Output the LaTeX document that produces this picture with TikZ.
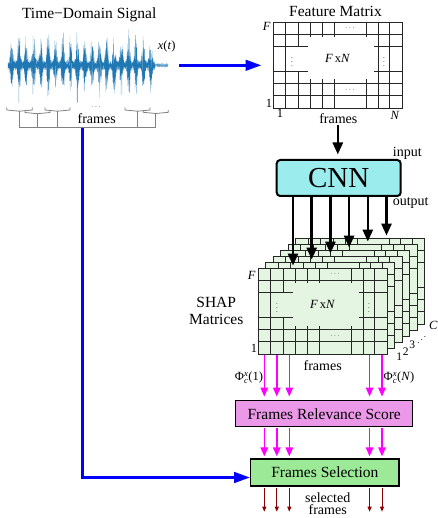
\documentclass[tikz,border=0pt]{standalone}
\usepackage{fontspec}
\usepackage{amsmath}
\usepackage{graphicx}
\setmainfont{Liberation Serif}
\usetikzlibrary{arrows.meta,calc}

\definecolor{sigblue}{RGB}{31,119,180}
\definecolor{pureblue}{RGB}{0,0,255}
\definecolor{puremag}{RGB}{255,0,255}
\definecolor{cnncol}{RGB}{155,236,236}
\definecolor{relcol}{RGB}{236,152,232}
\definecolor{selcol}{RGB}{156,234,152}
\definecolor{layfill}{RGB}{228,246,226}
\definecolor{darkred}{RGB}{140,0,0}
\definecolor{brgray}{RGB}{130,130,130}

% grid of an F x N matrix; #1 = top-left corner, #2 = fill colour
\newcommand\matgrid[2]{%
  \begin{scope}[shift={#1}]
    \fill[#2] (0,0) rectangle (129,86);
    \draw[gridline] (0,12) -- (129,12) (0,61.4) -- (129,61.4) (0,73.8) -- (129,73.8);
    \draw[gridline] (0,24) -- (35,24) (101,24) -- (129,24)
                    (0,49.2) -- (35,49.2) (101,49.2) -- (129,49.2);
    \draw[gridline] (12.4,0) -- (12.4,86) (105,0) -- (105,86) (116.7,0) -- (116.7,86);
    \draw[gridline] (25.2,0) -- (25.2,24) (25.2,49.2) -- (25.2,86);
    \foreach \c in {37.4,49.7,61.7,93.4}
      \draw[gridline] (\c,0) -- (\c,15) (\c,57.4) -- (\c,86);
    \draw[gridline] (0,0) rectangle (129,86);
  \end{scope}}

% labels inside a matrix; #1 = top-left corner
\newcommand\matlabels[1]{%
  \begin{scope}[shift={#1}]
    \node[dotlbl] at (77.7,6) {$\cdots$};
    \node[dotlbl] at (77.7,67.6) {$\cdots$};
    \node[dotlbl] at (18.8,36.6) {$\vdots$};
    \node[dotlbl] at (110.8,36.6) {$\vdots$};
    \node[mlab] at (64.5,36.6) {\textit{F}\,x\textit{N}};
  \end{scope}}

\begin{document}
\begin{tikzpicture}[x=1pt,y=-1pt,
  declare function={env(\t)=4.5+(15+10*abs(sin(13*\t))+8*abs(sin(31*\t+40)))*abs(sin(24.6*(\t-8)))^4;},
  every node/.style={inner sep=0pt},
  lbl/.style={font=\fontsize{15.5}{16.6}\selectfont},
  sml/.style={font=\fontsize{14}{15}\selectfont},
  mlab/.style={font=\fontsize{12.5}{14}\selectfont},
  dotlbl/.style={font=\fontsize{7}{7}\selectfont},
  gridline/.style={line width=0.9pt, draw=black!85},
  box/.style={draw=black, line width=1.3pt},
  bluearrow/.style={draw=pureblue, line width=3pt, -{Triangle[length=16pt,width=10.5pt]}},
  blackarrow/.style={draw=black, line width=2.6pt, -{Triangle[length=12pt,width=10pt]}},
  magarrow/.style={draw=puremag, line width=1.5pt, -{Triangle[length=9pt,width=7.5pt]}},
  redarrow/.style={draw=darkred, line width=1pt, -{Triangle[length=5pt,width=4pt]}},
  bracket/.style={draw=brgray, line width=0.8pt},
]
\useasboundingbox (0,0) rectangle (437,518);

% ---------------- time-domain signal ----------------
\node[lbl] (sigtitle) at (89.2,15) {Time−Domain Signal};
\node[minimum width=160, minimum height=72] (sig) at (88,65.3) {};
\pgfmathsetseed{11}
\draw[sigblue!60, line width=0.3pt]
  plot[samples=1200, domain=8:155, variable=\t] (\t,{65.3+1.1*env(\t)*(2*rnd-1)});
\draw[sigblue, line width=0.35pt]
  plot[samples=1400, domain=8:155, variable=\t] (\t,{65.3+0.72*env(\t)*(2*rnd-1)});
\draw[sigblue!70, line width=0.3pt]
  plot[samples=120, domain=155:168, variable=\t] (\t,{65.3+2*(rnd-rnd)});
\node[mlab] (xt) at (166.7,46.7) {\textit{x}(\textit{t})};

% frame brackets and their collecting line
\foreach \a/\b/\h in {6.7/32.3/110, 25/50/112.5, 45/70/110, 125/150/110, 143.3/168.3/112.3} {
  \draw[bracket] (\a,{\h-2.5}) -- (\a,\h) -- ({(\a+\b)/2},{\h+1.2}) -- (\b,\h) -- (\b,{\h-2.5});
  \draw[bracket] ({(\a+\b)/2},{\h+1.2}) -- ({(\a+\b)/2},127.7);
}
\draw[bracket] (19.5,127.7) -- (155.8,127.7);
\node[dotlbl] (fdots) at (96.7,106.7) {$\cdots$};
\node[sml] (sigframes) at (96.7,118.3) {frames};
\coordinate (bus) at (82.3,127.7);

% ---------------- feature matrix ----------------
\node[lbl] (fmtitle) at (335.5,11.7) {Feature Matrix};
\node[minimum width=129, minimum height=86] (fm) at (337.8,65.3) {};
\matgrid{(fm.north west)}{white}
\matlabels{(fm.north west)}
\node[mlab] (fmF) at (266.7,26.7) {\textit{F}};
\node[mlab] (fm1) at (269,103.3) {1};
\node[mlab] (fm1b) at (280,113) {1};
\node[mlab] (fmN) at (395,115) {\textit{N}};
\node[sml] (fmframes) at (338.3,118.3) {frames};

\draw[bluearrow, shorten <=11pt, shorten >=11.6pt] (sig.east) -- (fm.west);

% ---------------- SHAP matrices (back to front) ----------------
\foreach \k in {5,4,...,0} {
  \node[minimum width=129, minimum height=86] (lay\k) at ({322.8+7.5*\k},{311.3-6*\k}) {};
  \matgrid{(lay\k.north west)}{layfill}
}
\matlabels{(lay0.north west)}
\node[mlab] (shF) at (251.7,275) {\textit{F}};
\node[mlab] (sh1) at (254,348.3) {1};
\node[sml] (shframes) at (322.7,366) {frames};
\node[lbl, align=center] (shaplbl) at (216.2,311) {SHAP\\Matrices};
\node[font=\fontsize{11.5}{12}\selectfont] (c1) at (399.3,356.7) {1};
\node[font=\fontsize{11.5}{12}\selectfont] (c2) at (405.7,351.7) {2};
\node[font=\fontsize{11.5}{12}\selectfont] (c3) at (412.3,345) {3};
\node[font=\fontsize{9}{9}\selectfont] (cd) at (421.7,336.7) {\reflectbox{$\ddots$}};
\node[font=\fontsize{12.5}{13}\selectfont] (cC) at (433.3,325) {\textit{C}};

% ---------------- CNN ----------------
\node[draw=black, line width=2pt, rounded corners=3.5pt, fill=cnncol,
      minimum width=124, minimum height=36, font=\fontsize{29}{30}\selectfont] (cnn) at (338.7,178) {CNN};
\node[sml] (inlbl) at (407.3,153.3) {input};
\node[sml] (outlbl) at (410.7,202.7) {output};
\draw[blackarrow, shorten <=16.7pt, shorten >=4.5pt] (fm.south) -- (fm.south |- cnn.north);
\foreach \i in {0,...,5} {
  \path (cnn.south west) ++({17.3+18.7*\i},0) coordinate (o\i);
  \draw[blackarrow, shorten >=2.5pt] (o\i) -- (o\i |- lay\i.north);
}

% ---------------- relevance score and selection ----------------
\node[box, fill=relcol, minimum width=177, minimum height=26, lbl] (rel) at (324.2,413.7) {Frames Relevance Score};
\node[box, fill=selcol, minimum width=148.3, minimum height=27, lbl] (sel) at (324.85,472.5) {Frames Selection};
\coordinate (outrow) at (0,511.7);
\foreach \d in {6.2,18.7,31.2,111.5,123.9} {
  \path (lay0.south west) ++(\d,0) coordinate (m);
  \draw[magarrow, shorten >=3.5pt] (m) -- (m |- rel.north);
  \draw[magarrow, shorten <=1pt, shorten >=2pt] (m |- rel.south) -- (m |- sel.north);
  \draw[redarrow, shorten <=1pt] (m |- sel.south) -- (m |- outrow);
}
\node[mlab] (phi1) at (249,378) {Φ$^{\text{\itshape x}}_{\text{\itshape c}}$(1)};
\node[mlab] (phiN) at (399,378) {Φ$^{\text{\itshape x}}_{\text{\itshape c}}$(\textit{N})};
\node[sml, align=center, font=\fontsize{14}{11.7}\selectfont] (selfr) at (327.7,504) {selected\\frames};

\draw[bluearrow] (bus) |- ($(sel.west)+(0,5)$);
\end{tikzpicture}
\end{document}
